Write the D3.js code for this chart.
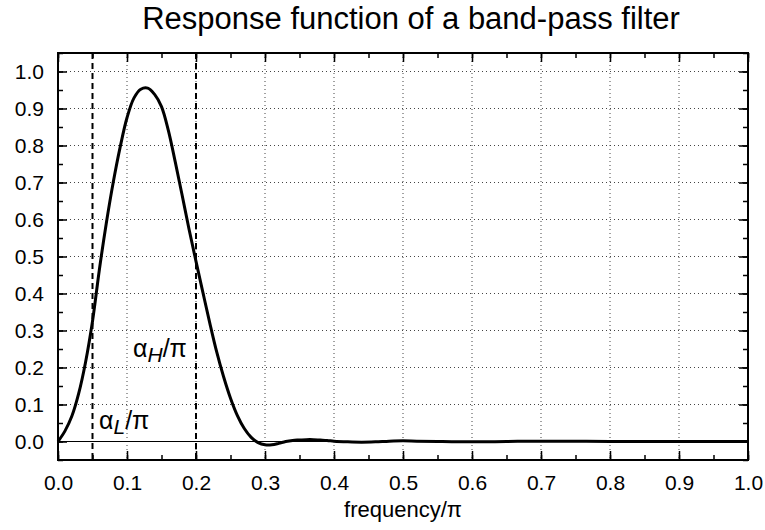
<!DOCTYPE html>
<html>
<head>
<meta charset="utf-8">
<script src="https://cdn.jsdelivr.net/npm/d3@7"></script>
<style>
  body { margin: 0; background: #fff; }
  svg { font-family: "Liberation Sans", Arial, sans-serif; }
</style>
</head>
<body>
<svg width="765" height="530"></svg>
<script>
var svg = d3.select('svg');

// frequency (in units of pi) and filter response
var freq = [0, 0.01, 0.02, 0.03, 0.04, 0.05, 0.06, 0.07, 0.08, 0.09,
    0.10, 0.11, 0.12, 0.13, 0.14, 0.15, 0.16, 0.17, 0.18, 0.19,
    0.20, 0.21, 0.22, 0.23, 0.24, 0.25, 0.26, 0.27, 0.28, 0.29,
    0.30, 0.31, 0.32, 0.33, 0.34, 0.35, 0.36, 0.37, 0.38, 0.39,
    0.40, 0.42, 0.44, 0.46, 0.48, 0.50, 0.52, 0.55, 0.60, 0.65,
    0.70, 0.80, 0.90, 1.0];
var response = [0, 0.028, 0.068, 0.13, 0.215, 0.325, 0.465, 0.59, 0.70, 0.795,
    0.875, 0.928, 0.952, 0.955, 0.938, 0.905, 0.84, 0.755, 0.665, 0.573,
    0.487, 0.403, 0.32, 0.242, 0.175, 0.117, 0.07, 0.035, 0.011, -0.003,
    -0.009, -0.009, -0.005, 0, 0.003, 0.004, 0.005, 0.005, 0.004, 0.003,
    0.001, -0.001, -0.002, -0.001, 0.001, 0.002, 0.001, 0, -0.001, 0,
    0.001, 0, 0, 0];

var xTicks = [0, 0.1, 0.2, 0.3, 0.4, 0.5, 0.6, 0.7, 0.8, 0.9, 1.0];
var yTicks = [0, 0.1, 0.2, 0.3, 0.4, 0.5, 0.6, 0.7, 0.8, 0.9, 1.0];
var cutoffs = [0.05, 0.2];

var plotL = 58, plotR = 748, plotT = 53, plotB = 460;

var x = d3.scaleLinear().domain([0, 1]).range([plotL, plotR]);
var y = d3.scaleLinear().domain([-0.05, 1.05]).range([plotB, plotT]);

// grid
svg.selectAll('.vgrid')
    .data(xTicks.slice(1, -1))
    .enter()
    .append('line')
    .attr('x1', function(d){ return x(d); })
    .attr('x2', function(d){ return x(d); })
    .attr('y1', plotT)
    .attr('y2', plotB)
    .attr('stroke', '#444')
    .attr('stroke-width', 1)
    .attr('stroke-dasharray', '1,3');

svg.selectAll('.hgrid')
    .data(yTicks)
    .enter()
    .append('line')
    .attr('x1', plotL)
    .attr('x2', plotR)
    .attr('y1', function(d){ return y(d); })
    .attr('y2', function(d){ return y(d); })
    .attr('stroke', '#444')
    .attr('stroke-width', 1)
    .attr('stroke-dasharray', '1,3');

// zero line
svg.append('line')
    .attr('x1', plotL).attr('x2', plotR)
    .attr('y1', y(0)).attr('y2', y(0))
    .attr('stroke', '#000')
    .attr('stroke-width', 1);

// axes with inward ticks
var minorX = d3.range(0, 1.001, 0.05);
var minorY = d3.range(-0.05, 1.051, 0.05);

function tickAxis(axisFn, scale, vals, len){
    return axisFn(scale).tickValues(vals).tickSize(-len).tickFormat('');
}

var gx = svg.append('g').attr('transform', 'translate(0,' + plotB + ')');
gx.call(tickAxis(d3.axisBottom, x, minorX, 5));
gx.append('g').call(d3.axisBottom(x).tickValues(xTicks).tickSize(-9).tickPadding(15).tickFormat(d3.format('.1f')));

var gxt = svg.append('g').attr('transform', 'translate(0,' + plotT + ')');
gxt.call(tickAxis(d3.axisTop, x, minorX, 5));
gxt.append('g').call(tickAxis(d3.axisTop, x, xTicks, 9));

var gy = svg.append('g').attr('transform', 'translate(' + plotL + ',0)');
gy.call(tickAxis(d3.axisLeft, y, minorY, 5));
gy.append('g').call(d3.axisLeft(y).tickValues(yTicks).tickSize(-9).tickPadding(14).tickFormat(d3.format('.1f')));

var gyr = svg.append('g').attr('transform', 'translate(' + plotR + ',0)');
gyr.call(tickAxis(d3.axisRight, y, minorY, 5));
gyr.append('g').call(tickAxis(d3.axisRight, y, yTicks, 9));

svg.selectAll('.domain').remove();
svg.selectAll('.tick line').attr('stroke', '#000').attr('stroke-width', 1.5);
svg.selectAll('.tick text')
    .attr('font-size', 21)
    .attr('font-family', '"Liberation Sans", Arial, sans-serif')
    .attr('fill', '#000');

// cutoff lines
svg.selectAll('.cut')
    .data(cutoffs)
    .enter()
    .append('line')
    .attr('x1', function(d){ return x(d); })
    .attr('x2', function(d){ return x(d); })
    .attr('y1', plotT)
    .attr('y2', plotB)
    .attr('stroke', '#000')
    .attr('stroke-width', 2)
    .attr('stroke-dasharray', '6,4');

// response curve
var pts = freq.map(function(f, i){ return [f, response[i]]; });
var line = d3.line()
    .x(function(d){ return x(d[0]); })
    .y(function(d){ return y(d[1]); })
    .curve(d3.curveCatmullRom.alpha(0.5));

svg.append('path')
    .datum(pts)
    .attr('d', line)
    .attr('fill', 'none')
    .attr('stroke', '#000')
    .attr('stroke-width', 3);

// frame
svg.append('rect')
    .attr('x', plotL).attr('y', plotT)
    .attr('width', plotR - plotL).attr('height', plotB - plotT)
    .attr('fill', 'none')
    .attr('stroke', '#000')
    .attr('stroke-width', 2);

// labels
function alphaLabel(px, py, sub){
    var t = svg.append('text')
        .attr('x', px).attr('y', py)
        .attr('font-size', 25)
        .attr('fill', '#000');
    t.append('tspan').text('α');
    t.append('tspan').attr('font-style', 'italic').attr('font-size', 21).attr('dy', 5).text(sub);
    t.append('tspan').attr('dy', -5).text('/π');
}
alphaLabel(99, 429, 'L');
alphaLabel(133, 357, 'H');

svg.append('text')
    .attr('x', 411).attr('y', 29)
    .attr('text-anchor', 'middle')
    .attr('font-size', 31)
    .text('Response function of a band-pass filter');

svg.append('text')
    .attr('x', 403).attr('y', 517)
    .attr('text-anchor', 'middle')
    .attr('font-size', 22)
    .text('frequency/π');
</script>
</body>
</html>
